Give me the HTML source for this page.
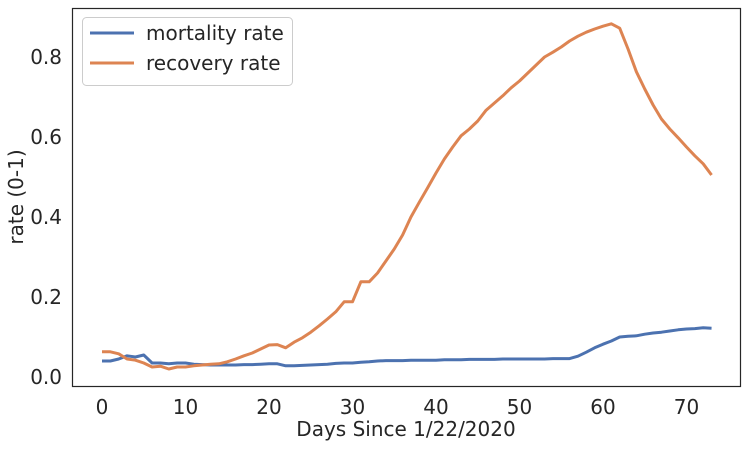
<!DOCTYPE html>
<html><head><meta charset="utf-8"><style>
body{margin:0;background:#fff;width:748px;height:446px;overflow:hidden}
svg text{font-family:"DejaVu Sans","Liberation Sans",sans-serif;fill:#262626}
</style></head><body>
<svg id="chart" width="748" height="446"></svg>
<script>
const days = Array.from({length:74},(_,i)=>i);
const mortality = [0.04,0.04,0.045,0.053,0.05,0.055,0.035,0.035,0.033,0.035,0.035,0.032,0.031,0.03,0.03,0.03,0.03,0.031,0.031,0.032,0.033,0.033,0.028,0.028,0.029,0.03,0.031,0.032,0.034,0.035,0.035,0.037,0.038,0.04,0.041,0.041,0.041,0.042,0.042,0.042,0.042,0.043,0.043,0.043,0.044,0.044,0.044,0.044,0.045,0.045,0.045,0.045,0.045,0.045,0.046,0.046,0.046,0.052,0.062,0.073,0.082,0.09,0.1,0.102,0.103,0.107,0.11,0.112,0.115,0.118,0.12,0.121,0.123,0.122];
const recovery = [0.063,0.063,0.058,0.045,0.042,0.035,0.025,0.027,0.02,0.025,0.025,0.028,0.03,0.032,0.033,0.038,0.045,0.053,0.06,0.07,0.08,0.081,0.073,0.087,0.098,0.112,0.128,0.145,0.163,0.188,0.188,0.238,0.238,0.26,0.29,0.32,0.355,0.4,0.437,0.473,0.51,0.545,0.575,0.603,0.62,0.64,0.667,0.685,0.703,0.723,0.74,0.76,0.78,0.8,0.812,0.825,0.84,0.852,0.862,0.87,0.877,0.883,0.872,0.82,0.763,0.72,0.68,0.645,0.62,0.598,0.575,0.553,0.533,0.505];
const xTicks = [0,10,20,30,40,50,60,70];
const yTicks = [0,0.2,0.4,0.6,0.8];
const yTickLabels = ["0.0","0.2","0.4","0.6","0.8"];

const svg = document.getElementById('chart');
const NS = 'http://www.w3.org/2000/svg';
const X = d => 102 + d*8.35;
const Y = v => 377 - v*400;
function mk(tag, attrs, parent){const e=document.createElementNS(NS,tag);for(const k in attrs)e.setAttribute(k,attrs[k]);(parent||svg).appendChild(e);return e;}

const frame = mk('rect',{x:72.5,y:8.5,width:668,height:378,fill:'none',stroke:'#262626','stroke-width':1.2});



xTicks.forEach(t=>{
  const tx = mk('text',{x:X(t),y:414,'font-size':20,'text-anchor':'middle'});
  tx.textContent = t;
  
  
});
yTicks.forEach((t,i)=>{
  const tx = mk('text',{x:62,y:Y(t)+7,'font-size':20,'text-anchor':'end'});
  tx.textContent = yTickLabels[i];
  
  
});

const xt = mk('text',{x:406,y:436,'font-size':20,'text-anchor':'middle'});
xt.textContent='Days Since 1/22/2020';


const yt = mk('text',{x:0,y:0,'font-size':20,'text-anchor':'middle',transform:'translate(23,197) rotate(-90)'});
yt.textContent='rate (0-1)';



function line(vals,color,name){
  const p = mk('polyline',{points:vals.map((v,i)=>X(days[i])+','+Y(v)).join(' '),fill:'none',stroke:color,'stroke-width':3,'stroke-linejoin':'round'});
  
  
}
line(mortality,'#4c72b0','mortality-line');
line(recovery,'#dd8452','recovery-line');

const lg = mk('g',{});


mk('rect',{x:82.5,y:17.5,width:210,height:68,rx:4,fill:'#fff','fill-opacity':0.8,stroke:'#ccc'},lg);
[['mortality rate','#4c72b0',33],['recovery rate','#dd8452',63]].forEach(([lab,c,y])=>{
  const e = mk('g',{},lg);
  
  
  mk('line',{x1:90,x2:134,y1:y,y2:y,stroke:c,'stroke-width':3},e);
  const t = mk('text',{x:146,y:y+7,'font-size':20},e);
  t.textContent = lab;
});
</script>
</body></html>
